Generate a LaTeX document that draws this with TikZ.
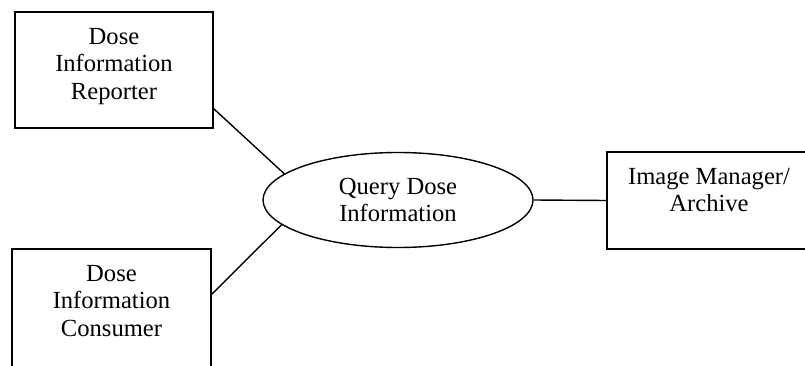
\documentclass[tikz,border=0pt]{standalone}
\usepackage{fontspec}
\setmainfont{Liberation Serif}
\usetikzlibrary{positioning,shapes.geometric}

\begin{document}
\begin{tikzpicture}[x=1pt,y=-1pt,line width=1.4pt,
		actorbox/.style={draw,rectangle,inner sep=0pt},
		lbl/.style={align=center,inner sep=0pt,font=\fontsize{24.6}{27.5}\selectfont}]
		\useasboundingbox (0,0) rectangle (805,366);
		\clip (0,0) rectangle (805,366);
		% actors (the lower and right boxes run off the page)
		\node[actorbox,minimum width=198pt,minimum height=116pt] (rep) at (114,70) {};
		\node[lbl,below=16pt of rep.north] (reptxt) {Dose\\Information\\Reporter};
		\node[actorbox,minimum width=199pt,minimum height=140pt] (con) at (111.5,319) {};
		\node[lbl,below=16pt of con.north] (contxt) {Dose\\Information\\Consumer};
		\node[actorbox,minimum width=230pt,minimum height=97pt] (iman) at (722,200.5) {};
		\node[lbl,below=16pt of iman.north,xshift=-13pt] (imantxt) {Image Manager/\\Archive};
		% transaction
		\node[lbl,draw,ellipse,minimum width=270pt,minimum height=95pt] (qdi) at (398,200) {Query Dose\\Information};
		\draw ([yshift=20pt]rep.south east) -- (qdi.167.7);
		\draw ([yshift=-46pt]con.north east) -- (qdi.192.5);
		\draw (qdi.east) -- (iman.west);
	\end{tikzpicture}
\end{document}
